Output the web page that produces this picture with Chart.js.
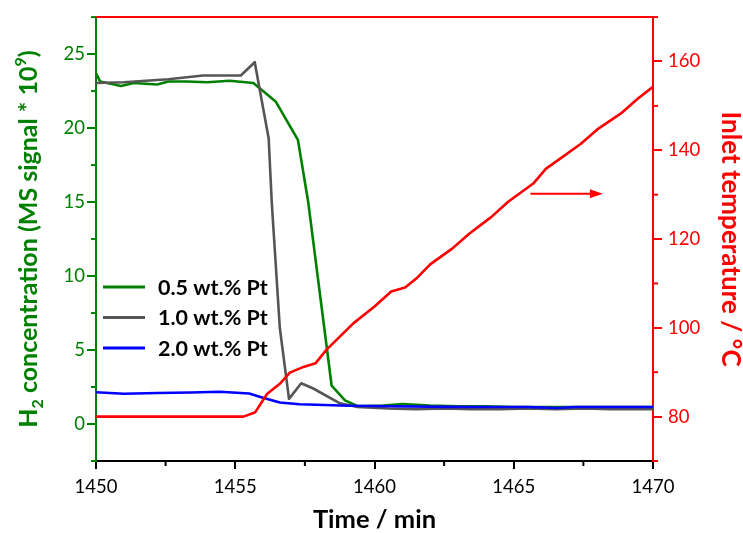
<!doctype html>
<html lang="en">
<head>
<meta charset="utf-8">
<title>H2 concentration vs inlet temperature</title>
<script src="https://cdn.jsdelivr.net/npm/chart.js"></script>
<style>
  html, body { margin: 0; padding: 0; background: #fff; }
</style>
</head>
<body>
<canvas id="myChart" width="743" height="533"></canvas>
<script>
// ---- data ----
const xTicks = [1450, 1455, 1460, 1465, 1470];
const xMinor = [1452.5, 1457.5, 1462.5, 1467.5];
const h2Ticks = [0, 5, 10, 15, 20, 25];
const h2Minor = [-2.5, 2.5, 7.5, 12.5, 17.5, 22.5, 27.5];
const tempTicks = [80, 100, 120, 140, 160];
const tempMinor = [70, 90, 110, 130, 150, 170];

const labels = ["0.5 wt.% Pt", "1.0 wt.% Pt", "2.0 wt.% Pt"];

// 0.5 wt.% Pt
const t05 = [1450, 1450.15, 1450.9, 1451.35, 1452.2, 1452.6, 1453.25, 1454, 1454.8, 1455.65, 1456.45, 1457.25, 1457.62, 1458.46, 1458.94, 1459.4, 1460.3, 1461, 1462, 1463, 1464, 1465, 1466, 1467, 1468, 1469, 1470];
const h2_05 = [23.7, 23.15, 22.85, 23.05, 22.95, 23.15, 23.15, 23.1, 23.2, 23.05, 21.8, 19.2, 15.0, 2.6, 1.6, 1.2, 1.25, 1.35, 1.25, 1.2, 1.2, 1.15, 1.15, 1.15, 1.15, 1.15, 1.15];

// 1.0 wt.% Pt
const t10 = [1450, 1451, 1452.6, 1453.85, 1455.2, 1455.7, 1456.2, 1456.31, 1456.6, 1456.93, 1457.37, 1457.8, 1458.76, 1459.36, 1460.5, 1461.5, 1462.5, 1463.5, 1464.5, 1465.5, 1466.5, 1467.5, 1468.5, 1469.5, 1470];
const h2_10 = [23.05, 23.1, 23.3, 23.55, 23.55, 24.45, 19.3, 15.0, 6.5, 1.7, 2.75, 2.4, 1.4, 1.16, 1.05, 1.0, 1.05, 1.0, 1.0, 1.05, 1.0, 1.05, 1.0, 1.0, 1.0];

// 2.0 wt.% Pt
const t20 = [1450, 1451, 1452.2, 1453.4, 1454.45, 1455.5, 1455.9, 1456.6, 1457.3, 1459.1, 1460.6, 1462.7, 1464, 1465.5, 1466.55, 1467.2, 1468.5, 1470];
const h2_20 = [2.15, 2.05, 2.1, 2.13, 2.18, 2.06, 1.83, 1.45, 1.34, 1.23, 1.2, 1.16, 1.15, 1.15, 1.08, 1.15, 1.15, 1.15];

// inlet temperature
const tT = [1450, 1455.3, 1455.72, 1456.14, 1456.6, 1456.96, 1457.45, 1457.88, 1458.28, 1459.24, 1460.0, 1460.6, 1461.1, 1461.5, 1462.0, 1462.8, 1463.4, 1464.2, 1464.8, 1465.7, 1466.15, 1467.4, 1468.0, 1468.85, 1469.45, 1470];
const temp = [80, 80, 81, 85.1, 87.4, 89.9, 91.2, 92.0, 95.1, 101, 104.8, 108.2, 109.1, 111.1, 114.3, 117.9, 121.2, 125, 128.4, 132.5, 135.8, 141.4, 144.7, 148.3, 151.6, 154.3];

// red arrow pointing to the temperature axis
const arrowFrom = 1465.6, arrowTo = 1468.2, arrowTemp = 130.2;

const GREEN = "#008000", GREY = "#555555", BLUE = "#0000ff", RED = "#ff0000";
const FONT = "Lato, 'Open Sans', sans-serif";

function pts(xs, ys) { return xs.map((x, i) => ({ x: x, y: ys[i] })); }

// axes extras: top frame, minor ticks, left title, legend, arrow
const decor = {
  id: "decor",
  afterDraw(chart) {
    const ctx = chart.ctx, a = chart.chartArea, s = chart.scales;
    ctx.save();
    ctx.lineWidth = 2;
    // top frame line
    ctx.strokeStyle = RED;
    ctx.beginPath(); ctx.moveTo(a.left, a.top); ctx.lineTo(a.right, a.top); ctx.stroke();

    // minor ticks
    ctx.strokeStyle = "#000";
    xMinor.forEach(v => {
      const x = s.x.getPixelForValue(v);
      ctx.beginPath(); ctx.moveTo(x, a.bottom); ctx.lineTo(x, a.bottom + 5); ctx.stroke();
    });
    ctx.strokeStyle = GREEN;
    h2Minor.forEach(v => {
      const y = s.y.getPixelForValue(v);
      ctx.beginPath(); ctx.moveTo(a.left, y); ctx.lineTo(a.left - 5, y); ctx.stroke();
    });
    ctx.strokeStyle = RED;
    tempMinor.forEach(v => {
      const y = s.yT.getPixelForValue(v);
      ctx.beginPath(); ctx.moveTo(a.right, y); ctx.lineTo(a.right + 5, y); ctx.stroke();
    });

    // left axis title with sub/superscript
    const parts = [
      { t: "H", size: 25, dy: 0 },
      { t: "2", size: 16, dy: 6 },
      { t: " concentration (MS signal * 10", size: 25, dy: 0 },
      { t: "9", size: 16, dy: -11 },
      { t: ")", size: 25, dy: 0 }
    ];
    ctx.fillStyle = GREEN;
    ctx.textBaseline = "alphabetic";
    let total = 0;
    parts.forEach(p => { ctx.font = "bold " + p.size + "px " + FONT; p.w = ctx.measureText(p.t).width; total += p.w; });
    ctx.translate(28, (a.top + a.bottom) / 2);
    ctx.rotate(-Math.PI / 2);
    let cx = -total / 2;
    parts.forEach(p => {
      ctx.font = "bold " + p.size + "px " + FONT;
      ctx.fillText(p.t, cx, 9 + p.dy);
      cx += p.w;
    });
    ctx.setTransform(1, 0, 0, 1, 0, 0);

    // legend
    ctx.font = "bold 21.5px " + FONT;
    ctx.textBaseline = "middle";
    ctx.lineWidth = 3;
    [0, 1, 2].forEach(i => {
      const ds = chart.data.datasets[i];
      const y = 287 + i * 30.5;
      ctx.strokeStyle = ds.borderColor;
      ctx.beginPath(); ctx.moveTo(103, y); ctx.lineTo(145, y); ctx.stroke();
      ctx.fillStyle = "#000";
      ctx.fillText(ds.label, 158, y + 1);
    });

    // arrow
    const ax1 = s.x.getPixelForValue(arrowFrom), ax2 = s.x.getPixelForValue(arrowTo);
    const ay = s.yT.getPixelForValue(arrowTemp);
    ctx.strokeStyle = RED; ctx.fillStyle = RED; ctx.lineWidth = 2;
    ctx.beginPath(); ctx.moveTo(ax1, ay); ctx.lineTo(ax2 - 10, ay); ctx.stroke();
    ctx.beginPath(); ctx.moveTo(ax2, ay); ctx.lineTo(ax2 - 13, ay - 4.5); ctx.lineTo(ax2 - 13, ay + 4.5); ctx.closePath(); ctx.fill();
    ctx.restore();
  }
};

const plain = v => String(v);

const ctx = document.getElementById("myChart");
const myChart = new Chart(ctx, {
  type: "line",
  data: {
    datasets: [
      { label: labels[0], data: pts(t05, h2_05), borderColor: GREEN, yAxisID: "y", order: 3 },
      { label: labels[1], data: pts(t10, h2_10), borderColor: GREY, yAxisID: "y", order: 2 },
      { label: labels[2], data: pts(t20, h2_20), borderColor: BLUE, yAxisID: "y", order: 1 },
      { label: "Inlet temperature", data: pts(tT, temp), borderColor: RED, yAxisID: "yT", order: 0 }
    ]
  },
  options: {
    responsive: false,
    animation: false,
    devicePixelRatio: 1,
    layout: { padding: { top: 12, left: 0, right: 0, bottom: 0 } },
    elements: {
      point: { radius: 0 },
      line: { borderWidth: 2.6, tension: 0, borderJoinStyle: "round", fill: false }
    },
    plugins: { legend: { display: false }, tooltip: { enabled: false } },
    scales: {
      x: {
        type: "linear", min: 1450, max: 1470,
        afterBuildTicks: sc => { sc.ticks = xTicks.map(v => ({ value: v })); },
        afterFit: sc => { sc.height = 72; },
        ticks: { color: "#000", font: { family: FONT, size: 18.5 }, padding: 7, callback: plain },
        grid: { drawOnChartArea: false, drawTicks: true, tickLength: 8, color: "#000", lineWidth: 2 },
        border: { display: true, color: "#000", width: 2 },
        title: { display: true, text: "Time / min", color: "#000", font: { family: FONT, size: 25.5, weight: "bold", lineHeight: 1 }, padding: { top: 0, bottom: 0 } }
      },
      y: {
        type: "linear", position: "left", min: -2.5, max: 27.5,
        afterBuildTicks: sc => { sc.ticks = h2Ticks.map(v => ({ value: v })); },
        afterFit: sc => { sc.width = 96; },
        ticks: { color: GREEN, font: { family: FONT, size: 18.5 }, padding: 2, callback: plain },
        grid: { drawOnChartArea: false, drawTicks: true, tickLength: 9, color: GREEN, lineWidth: 2 },
        border: { display: true, color: GREEN, width: 2 }
      },
      yT: {
        type: "linear", position: "right", min: 70, max: 170,
        afterBuildTicks: sc => { sc.ticks = tempTicks.map(v => ({ value: v })); },
        afterFit: sc => { sc.width = 90; },
        ticks: { color: RED, font: { family: FONT, size: 18.5 }, padding: 6, callback: plain },
        grid: { drawOnChartArea: false, drawTicks: true, tickLength: 9, color: RED, lineWidth: 2 },
        border: { display: true, color: RED, width: 2 },
        title: { display: true, text: "Inlet temperature / °C", color: RED, font: { family: FONT, size: 26, weight: "bold", lineHeight: 1 }, padding: { top: 0, bottom: 0 } }
      }
    }
  },
  plugins: [decor]
});
</script>
</body>
</html>
